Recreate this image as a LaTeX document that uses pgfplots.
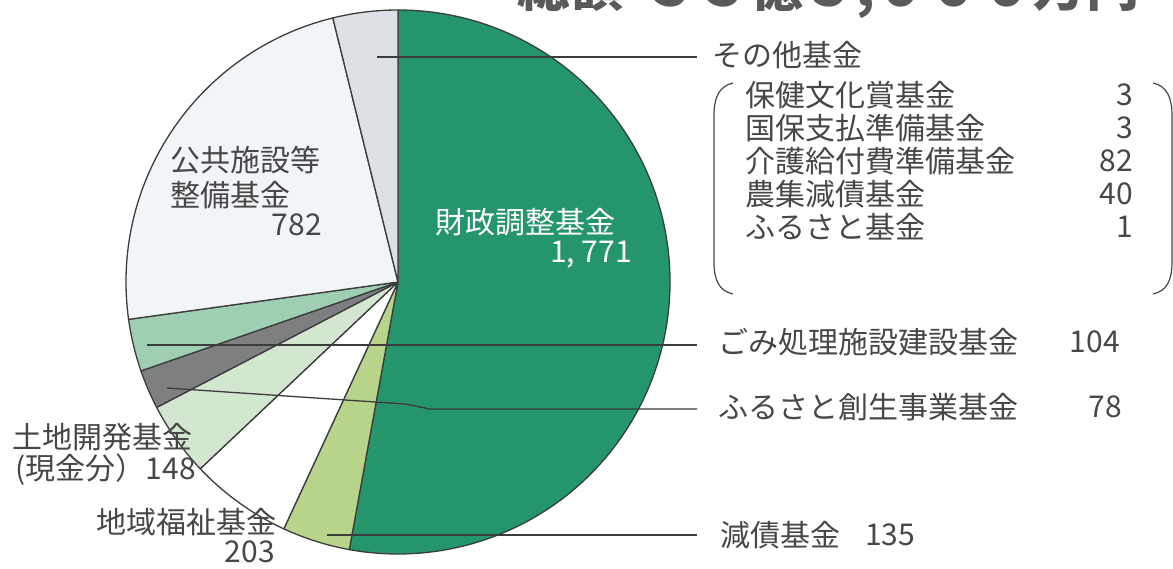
\documentclass[border=0pt]{standalone}
\usepackage{pgfplots}
\pgfplotsset{compat=1.18}
\usepackage{pgfplotstable}
\usepackage{fontspec}
\setmainfont{Noto Sans CJK JP}

\definecolor{zaisei}{HTML}{25966B}
\definecolor{gensai}{HTML}{B8D48A}
\definecolor{chiiki}{HTML}{FFFFFF}
\definecolor{tochi}{HTML}{D3E6CF}
\definecolor{furusato}{HTML}{7D7F80}
\definecolor{gomi}{HTML}{9ECFB3}
\definecolor{kokyo}{HTML}{F2F5F8}
\definecolor{sonota}{HTML}{DDE1E6}
\definecolor{edge}{HTML}{3C3C3C}
\definecolor{txt}{HTML}{474747}
\definecolor{titlegray}{HTML}{5A5A5A}

% fund balances, clockwise from 12 o'clock
\pgfplotstableread{
name value color
zaisei 1771 zaisei
gensai 135 gensai
chiiki 203 chiiki
tochi 148 tochi
furusato 78 furusato
gomi 104 gomi
kokyo 782 kokyo
sonota 129 sonota
}\funds

\begin{document}
\begin{tikzpicture}[
  lbl/.style={inner sep=0pt, text=txt, font=\fontsize{30pt}{34pt}\selectfont},
  lead/.style={draw=edge, line width=1.3pt}]
\useasboundingbox (0,0) rectangle (1173pt,568pt);
\clip (0,0) rectangle (1173pt,568pt);
\begin{axis}[
    hide axis, scale only axis,
    width=1173pt, height=568pt,
    xmin=0, xmax=1173, ymin=0, ymax=568,
    y dir=reverse, clip=false,
    at={(0,0)}, anchor=south west,
]
\pgfplotsextra{
  \pgfplotstablegetrowsof{\funds}
  \pgfmathtruncatemacro\nrows{\pgfplotsretval-1}
  \gdef\total{0}
  \foreach \i in {0,...,\nrows}{
    \pgfplotstablegetelem{\i}{value}\of\funds
    \pgfmathsetmacro\tmp{\total+\pgfplotsretval}\xdef\total{\tmp}}
  \gdef\cum{0}
  \foreach \i in {0,...,\nrows}{
    \pgfplotstablegetelem{\i}{value}\of\funds \let\val\pgfplotsretval
    \pgfplotstablegetelem{\i}{color}\of\funds \let\slicecol\pgfplotsretval
    \pgfmathsetmacro\angA{90-\cum/\total*360}
    \pgfmathsetmacro\angB{90-(\cum+\val)/\total*360}
    \filldraw[fill=\slicecol, draw=edge, line width=1.3pt, line join=round]
      (axis cs:398,282) -- ++(\angA:272pt)
      arc[start angle=\angA, end angle=\angB, radius=272pt] -- cycle;
    \pgfmathsetmacro\tmp{\cum+\val}\xdef\cum{\tmp}}
}

% title (cut off at the top edge, as in the source)
\node[anchor=base west, inner sep=0pt, text=titlegray,
  font=\fontsize{53pt}{53pt}\selectfont\bfseries] at (axis cs:517,6)
  {総額\hspace{0.4em}３３億５,０００万円};

% leader lines
\draw[lead] (axis cs:377,57) -- (axis cs:697,57);
\draw[lead] (axis cs:147,345) -- (axis cs:697,345);
\draw[lead] (axis cs:167,388) -- (axis cs:405,404) -- (axis cs:430,409) -- (axis cs:697,409);
\draw[lead] (axis cs:327,535) -- (axis cs:697,535);

% labels inside / beside the pie
\node[lbl, anchor=west, text=white] at (axis cs:435,222) {財政調整基金};
\node[lbl, anchor=east, text=white] at (axis cs:632,255) {1, 771};
\node[lbl, anchor=west] at (axis cs:170,160) {公共施設等};
\node[lbl, anchor=west] at (axis cs:170,195) {整備基金};
\node[lbl, anchor=east] at (axis cs:322,225) {782};
\node[lbl, anchor=west] at (axis cs:12,437) {土地開発基金};
\node[lbl, anchor=east] at (axis cs:196,470) {(現金分）148};
\node[lbl, anchor=east] at (axis cs:277,522) {地域福祉基金};
\node[lbl, anchor=east] at (axis cs:275,552) {203};

% right-hand labels
\node[lbl, anchor=west] at (axis cs:712,55) {その他基金};
\node[lbl, anchor=west] at (axis cs:745,95) {保健文化賞基金};
\node[lbl, anchor=east] at (axis cs:1133,95) {3};
\node[lbl, anchor=west] at (axis cs:745,128) {国保支払準備基金};
\node[lbl, anchor=east] at (axis cs:1133,128) {3};
\node[lbl, anchor=west] at (axis cs:745,161) {介護給付費準備基金};
\node[lbl, anchor=east] at (axis cs:1133,161) {82};
\node[lbl, anchor=west] at (axis cs:745,194) {農集減債基金};
\node[lbl, anchor=east] at (axis cs:1133,194) {40};
\node[lbl, anchor=west] at (axis cs:745,227) {ふるさと基金};
\node[lbl, anchor=east] at (axis cs:1133,227) {1};
\draw[draw=txt, line width=1.2pt] (axis cs:733,83) .. controls (axis cs:719,86) and (axis cs:714,98) .. (axis cs:714,115)
  -- (axis cs:714,262) .. controls (axis cs:714,280) and (axis cs:719,291) .. (axis cs:733,294);
\draw[draw=txt, line width=1.2pt] (axis cs:1153,83) .. controls (axis cs:1167,86) and (axis cs:1172,98) .. (axis cs:1172,115)
  -- (axis cs:1172,262) .. controls (axis cs:1172,280) and (axis cs:1167,291) .. (axis cs:1153,294);

\node[lbl, anchor=west] at (axis cs:718,342) {ごみ処理施設建設基金};
\node[lbl, anchor=east] at (axis cs:1120,342) {104};
\node[lbl, anchor=west] at (axis cs:718,407) {ふるさと創生事業基金};
\node[lbl, anchor=east] at (axis cs:1122,407) {78};
\node[lbl, anchor=west] at (axis cs:720,535) {減債基金};
\node[lbl, anchor=west] at (axis cs:865,535) {135};
\end{axis}
\end{tikzpicture}
\end{document}
